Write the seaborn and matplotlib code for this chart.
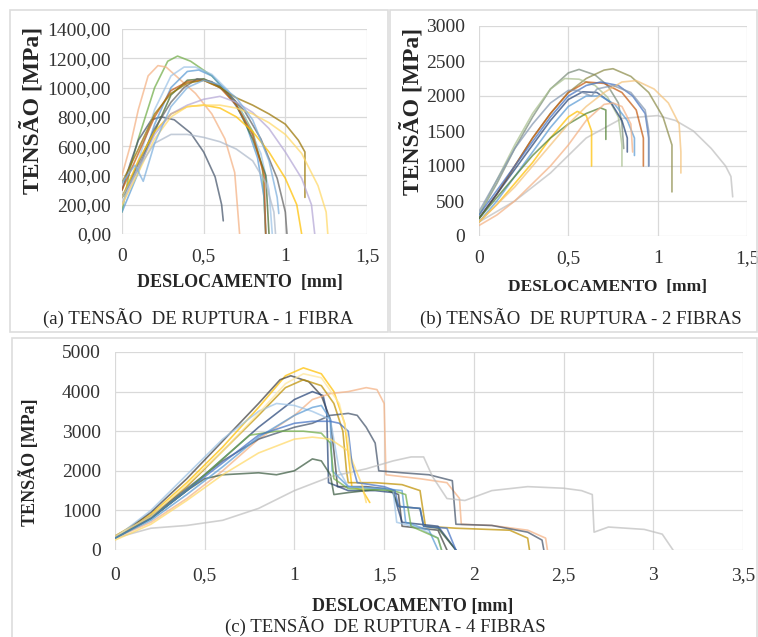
import matplotlib
matplotlib.use("Agg")
import matplotlib.pyplot as plt
from matplotlib.patches import Rectangle
from matplotlib.ticker import FuncFormatter
import seaborn as sns

# ---------------- (a) 1 fibra ----------------
A_DESLOC = [
    [0, 0.05, 0.1, 0.2, 0.28, 0.34, 0.42, 0.55, 0.7, 0.8, 0.86, 0.88],
    [0, 0.05, 0.1, 0.16, 0.22, 0.27, 0.35, 0.45, 0.55, 0.63, 0.69, 0.72],
    [0, 0.05, 0.1, 0.18, 0.24, 0.32, 0.42, 0.5, 0.57, 0.61, 0.62],
    [0, 0.1, 0.2, 0.3, 0.38, 0.45, 0.55, 0.65, 0.75, 0.85, 0.9, 0.92],
    [0, 0.1, 0.2, 0.3, 0.4, 0.47, 0.55, 0.65, 0.75, 0.83, 0.87, 0.88],
    [0, 0.1, 0.2, 0.3, 0.4, 0.5, 0.6, 0.7, 0.8, 0.88, 0.9],
    [0, 0.1, 0.2, 0.3, 0.4, 0.5, 0.6, 0.7, 0.8, 0.87, 0.88],
    [0, 0.1, 0.2, 0.3, 0.38, 0.46, 0.55, 0.65, 0.75, 0.85, 0.95, 1.0, 1.01],
    [0, 0.1, 0.2, 0.3, 0.4, 0.5, 0.6, 0.7, 0.8, 0.9, 1.0, 1.07, 1.1],
    [0, 0.1, 0.2, 0.3, 0.4, 0.5, 0.6, 0.7, 0.8, 0.9, 1.0, 1.08, 1.12, 1.12],
    [0, 0.1, 0.2, 0.3, 0.4, 0.5, 0.6, 0.7, 0.8, 0.9, 1.0, 1.1, 1.16, 1.18],
    [0, 0.1, 0.2, 0.3, 0.4, 0.5, 0.6, 0.7, 0.8, 0.9, 1.0, 1.1, 1.2, 1.25, 1.26],
    [0, 0.1, 0.2, 0.3, 0.4, 0.5, 0.6, 0.7, 0.8, 0.88, 0.93, 0.94],
    [0, 0.08, 0.13, 0.2, 0.3, 0.4, 0.5, 0.6, 0.7, 0.8, 0.9, 0.95, 0.96],
]
A_TENSAO = [
    [150, 450, 650, 1000, 1180, 1215, 1180, 1080, 900, 700, 450, 0],
    [400, 600, 850, 1080, 1150, 1140, 1060, 960, 820, 650, 420, 0],
    [300, 480, 640, 780, 800, 780, 690, 560, 390, 200, 90],
    [200, 500, 850, 1080, 1140, 1140, 1090, 980, 800, 550, 300, 0],
    [150, 420, 750, 1000, 1110, 1120, 1080, 960, 780, 520, 250, 0],
    [250, 450, 700, 950, 1050, 1060, 1010, 880, 650, 400, 0],
    [300, 550, 800, 980, 1040, 1050, 1000, 880, 680, 400, 0],
    [250, 480, 720, 900, 1000, 1060, 1040, 960, 840, 650, 380, 150, 0],
    [250, 500, 700, 820, 870, 880, 860, 800, 700, 560, 380, 200, 0],
    [350, 580, 820, 960, 1030, 1050, 1000, 930, 880, 820, 750, 640, 560, 250],
    [200, 450, 680, 820, 880, 920, 940, 900, 830, 720, 560, 380, 200, 0],
    [200, 420, 650, 800, 870, 880, 880, 860, 820, 760, 680, 550, 330, 150, 0],
    [250, 450, 620, 680, 680, 660, 630, 580, 500, 350, 150, 0],
    [350, 470, 360, 620, 870, 1000, 1050, 1020, 930, 780, 500, 250, 140],
]
A_COLORS = ["#70AD47", "#F4B183", "#44546A", "#9DC3E6", "#5B9BD5", "#43682B",
            "#C55A11", "#636363", "#FFC000", "#997300", "#B4A7D6", "#FFD966",
            "#ADB9CA", "#7CAFDD"]

# ---------------- (b) 2 fibras ----------------
B_DESLOC = [
    [0, 0.2, 0.4, 0.6, 0.8, 1.0, 1.1, 1.2, 1.3, 1.38, 1.41, 1.42],
    [0, 0.1, 0.2, 0.3, 0.4, 0.5, 0.56, 0.65, 0.72, 0.78, 0.8, 0.81],
    [0, 0.1, 0.2, 0.3, 0.4, 0.5, 0.6, 0.7, 0.75, 0.85, 0.95, 1.03, 1.08, 1.08],
    [0, 0.1, 0.2, 0.3, 0.4, 0.48, 0.56, 0.65, 0.72, 0.78, 0.8, 0.8],
    [0, 0.1, 0.2, 0.3, 0.4, 0.5, 0.6, 0.7, 0.8, 0.88, 0.92, 0.92],
    [0, 0.1, 0.2, 0.3, 0.4, 0.5, 0.6, 0.68, 0.78, 0.86, 0.93, 0.95, 0.95],
    [0, 0.1, 0.2, 0.3, 0.4, 0.5, 0.58, 0.66, 0.74, 0.8, 0.83, 0.83],
    [0, 0.1, 0.2, 0.3, 0.4, 0.5, 0.6, 0.68, 0.76, 0.83, 0.87, 0.87],
    [0, 0.1, 0.2, 0.3, 0.4, 0.5, 0.55, 0.6, 0.63, 0.63],
    [0, 0.1, 0.2, 0.3, 0.4, 0.5, 0.6, 0.68, 0.71, 0.71],
    [0, 0.1, 0.2, 0.3, 0.4, 0.5, 0.6, 0.7, 0.8, 0.88, 0.98, 1.06, 1.12, 1.13, 1.13],
    [0, 0.1, 0.2, 0.3, 0.4, 0.5, 0.6, 0.7, 0.75, 0.8, 0.85, 0.86],
    [0, 0.1, 0.2, 0.3, 0.4, 0.5, 0.55, 0.6, 0.63, 0.66, 0.75, 0.85, 0.93, 0.95, 0.95],
]
B_TENSAO = [
    [200, 500, 900, 1400, 1680, 1720, 1650, 1500, 1250, 1000, 850, 560],
    [300, 750, 1250, 1700, 2100, 2330, 2380, 2300, 2150, 1900, 1600, 1250],
    [250, 600, 1000, 1400, 1750, 2050, 2250, 2370, 2390, 2280, 2050, 1700, 1300, 630],
    [300, 800, 1300, 1750, 2100, 2250, 2240, 2150, 1980, 1700, 1300, 1000],
    [250, 600, 1000, 1400, 1750, 2050, 2200, 2180, 2050, 1800, 1400, 1000],
    [300, 650, 1000, 1350, 1700, 2000, 2150, 2200, 2150, 2000, 1750, 1400, 1000],
    [250, 600, 950, 1300, 1650, 1950, 2060, 2050, 1900, 1650, 1400, 1200],
    [200, 500, 850, 1200, 1550, 1850, 2000, 2000, 1880, 1650, 1400, 1150],
    [200, 450, 750, 1050, 1400, 1700, 1780, 1720, 1500, 1000],
    [250, 550, 850, 1150, 1400, 1600, 1750, 1830, 1800, 1380],
    [200, 450, 700, 1000, 1300, 1600, 1850, 2050, 2200, 2220, 2100, 1900, 1600, 1200, 900],
    [150, 300, 500, 750, 1000, 1300, 1650, 1880, 1900, 1850, 1600, 1200],
    [350, 800, 1250, 1600, 1900, 2080, 2080, 2030, 2000, 2100, 2150, 2050, 1800, 1500, 1000],
]
B_COLORS = ["#BFBFBF", "#7A8C7A", "#8C8C4A", "#A9C08F", "#C55A11", "#4472C4",
            "#264478", "#5B9BD5", "#FFC000", "#548235", "#F4C27A", "#F4B183",
            "#8497B0"]

# ---------------- (c) 4 fibras ----------------
C_DESLOC = [
    [0, 0.2, 0.4, 0.6, 0.8, 0.95, 1.05, 1.15, 1.22, 1.28, 1.3, 1.32, 1.38, 1.42],
    [0, 0.2, 0.4, 0.6, 0.8, 0.92, 0.98, 1.08, 1.15, 1.2, 1.22, 1.24, 1.4, 1.5, 1.58, 1.6, 1.8, 1.85],
    [0, 0.2, 0.4, 0.6, 0.8, 0.95, 1.05, 1.15, 1.22, 1.27, 1.29, 1.3, 1.45, 1.6, 1.7, 1.73, 1.9, 2.2, 2.3, 2.31],
    [0, 0.2, 0.4, 0.6, 0.8, 1.0, 1.1, 1.16, 1.18, 1.19, 1.3, 1.45, 1.55, 1.6, 1.8, 1.9],
    [0, 0.2, 0.4, 0.6, 0.8, 1.0, 1.1, 1.2, 1.3, 1.4, 1.46, 1.5, 1.51, 1.7, 1.85, 1.92, 1.93, 2.1, 2.3, 2.4, 2.41],
    [0, 0.2, 0.4, 0.6, 0.8, 1.0, 1.1, 1.2, 1.3, 1.35, 1.4, 1.45, 1.47, 1.6, 1.75, 1.88, 1.9, 2.1, 2.3, 2.38, 2.39],
    [0, 0.2, 0.4, 0.5, 0.6, 0.8, 0.9, 1.0, 1.1, 1.15, 1.2, 1.22, 1.3, 1.5, 1.55, 1.58, 1.7, 1.72, 1.8, 1.9],
    [0, 0.2, 0.4, 0.6, 0.8, 1.0, 1.2, 1.4, 1.55, 1.65, 1.72, 1.77, 1.85, 1.95, 2.1, 2.3, 2.5, 2.6, 2.66, 2.67, 2.75, 2.95, 3.05, 3.11],
    [0, 0.2, 0.4, 0.6, 0.8, 0.9, 1.0, 1.1, 1.2, 1.25, 1.3, 1.45, 1.55, 1.57, 1.7, 1.8, 1.82],
    [0, 0.2, 0.4, 0.6, 0.8, 1.0, 1.1, 1.15, 1.2, 1.21, 1.3, 1.5, 1.6, 1.62, 1.75, 1.8],
    [0, 0.2, 0.4, 0.6, 0.75, 0.9, 1.05, 1.15, 1.2, 1.22, 1.3, 1.55, 1.62, 1.65, 1.8, 1.82],
    [0, 0.2, 0.4, 0.6, 0.8, 1.0, 1.1, 1.2, 1.3, 1.38, 1.4],
    [0, 0.2, 0.4, 0.6, 0.8, 1.0, 1.1, 1.2, 1.25, 1.3, 1.32, 1.35, 1.5, 1.56, 1.58, 1.7, 1.72, 1.85, 1.9],
    [0, 0.2, 0.4, 0.6, 0.8, 0.95, 1.05, 1.15, 1.25, 1.3, 1.32],
]
C_TENSAO = [
    [350, 900, 1700, 2600, 3600, 4400, 4600, 4450, 4000, 3200, 2400, 1600, 1500, 1200],
    [300, 950, 1800, 2750, 3700, 4300, 4400, 4250, 3900, 3300, 2500, 1600, 1600, 1550, 1400, 600, 500, 0],
    [300, 850, 1600, 2500, 3400, 4100, 4300, 4150, 3700, 3000, 2000, 1700, 1700, 1650, 1500, 600, 550, 500, 300, 0],
    [300, 800, 1500, 2300, 3100, 3800, 4000, 3900, 3500, 1700, 1500, 1500, 1450, 700, 600, 0],
    [300, 700, 1300, 2000, 2800, 3400, 3800, 3950, 4000, 4100, 4050, 3700, 1900, 1800, 1700, 1300, 650, 620, 500, 300, 0],
    [350, 850, 1550, 2250, 2800, 3100, 3200, 3400, 3450, 3400, 3100, 2700, 2000, 1950, 1900, 1750, 650, 620, 450, 250, 0],
    [300, 800, 1500, 1800, 1900, 1950, 1900, 2000, 2300, 2250, 1900, 1400, 1450, 1550, 1450, 1100, 1050, 600, 550, 0],
    [300, 550, 620, 750, 1050, 1500, 1850, 2050, 2250, 2350, 2350, 1850, 1300, 1250, 1500, 1600, 1560, 1500, 1400, 450, 580, 520, 400, 0],
    [300, 1000, 1900, 2800, 3500, 3700, 3650, 3500, 3300, 2000, 1600, 1550, 1500, 700, 550, 300, 0],
    [300, 750, 1400, 2100, 2850, 3400, 3600, 3650, 3300, 2000, 1600, 1550, 1500, 700, 500, 0],
    [300, 800, 1500, 2300, 2900, 3000, 3000, 2950, 2700, 1800, 1550, 1500, 1400, 600, 300, 0],
    [250, 650, 1250, 1900, 2450, 2800, 2850, 2800, 2500, 1600, 1200],
    [300, 800, 1500, 2200, 2900, 3200, 3250, 3250, 3200, 3000, 2200, 1700, 1600, 1500, 1100, 1050, 600, 550, 0],
    [350, 850, 1650, 2500, 3450, 4200, 4450, 4350, 3700, 2800, 1900],
]
C_COLORS = ["#FFC000", "#404040", "#BF9000", "#264478", "#F4B183", "#44546A",
            "#3A5A40", "#BFBFBF", "#9DC3E6", "#5B9BD5", "#70AD47", "#FFD966",
            "#4472C4", "#FFE699"]

X_TICKS_SHORT = [0, 0.5, 1, 1.5]
X_TICKS_LONG = [0, 0.5, 1, 1.5, 2, 2.5, 3, 3.5]

sns.set_theme(style="whitegrid")
plt.rcParams["font.family"] = ["Liberation Serif", "DejaVu Serif"]

W, H = 758, 637
fig = plt.figure(figsize=(W / 100, H / 100), dpi=100)
fig.patch.set_facecolor("white")


def fx(px):
    return px / W


def fy(py):
    return 1 - py / H


def comma(v, _):
    return f"{v:g}".replace(".", ",")


def comma2(v, _):
    return f"{v:.2f}".replace(".", ",")


def draw_panel(rect, xs_list, ys_list, colors, xlim, xticks, ylim, ystep, yfmt,
               xlabel, lab_fs, ylab_fs, xlab_pos, ylab_pos, xpad, ypad):
    l, t, r, b = rect
    ax = fig.add_axes([fx(l), fy(b), fx(r) - fx(l), fy(t) - fy(b)])
    for xs, ys, c in zip(xs_list, ys_list, colors):
        sns.lineplot(x=xs, y=ys, sort=False, estimator=None, color=c,
                     lw=1.2, alpha=0.72, ax=ax)
    ax.set_xlim(*xlim)
    ax.set_ylim(*ylim)
    ax.set_xticks(xticks)
    ax.set_yticks(list(range(ylim[0], ylim[1] + 1, ystep)))
    ax.xaxis.set_major_formatter(FuncFormatter(comma))
    ax.yaxis.set_major_formatter(FuncFormatter(yfmt))
    ax.grid(True, color="#D9D9D9", lw=0.9)
    for s in ax.spines.values():
        s.set_visible(False)
    ax.tick_params(axis="both", length=0, labelsize=14, colors="#333333")
    ax.tick_params(axis="x", pad=xpad)
    ax.tick_params(axis="y", pad=ypad)
    ax.set_xlabel(xlabel, fontsize=lab_fs, fontweight="bold", color="#262626")
    ax.set_ylabel("TENSÃO [MPa]", fontsize=ylab_fs, fontweight="bold", color="#262626")
    ax.xaxis.set_label_coords((xlab_pos[0] - l) / (r - l), (b - xlab_pos[1]) / (b - t))
    ax.yaxis.set_label_coords((ylab_pos[0] - l) / (r - l), (b - ylab_pos[1]) / (b - t))
    ax.xaxis.label.set_va("center")
    ax.yaxis.label.set_va("center")
    return ax


draw_panel((122, 29, 367, 234), A_DESLOC, A_TENSAO, A_COLORS, (0, 1.5), X_TICKS_SHORT,
           (0, 1400), 200, comma2, "DESLOCAMENTO  [mm]", 13, 17, (240, 283), (32, 110), 10, 8)
draw_panel((479, 26, 747, 236), B_DESLOC, B_TENSAO, B_COLORS, (0, 1.5), X_TICKS_SHORT,
           (0, 3000), 500, comma, "DESLOCAMENTO  [mm]", 12.5, 17, (607, 287), (412, 111), 10, 10)
draw_panel((115, 352, 743, 550), C_DESLOC, C_TENSAO, C_COLORS, (0, 3.5), X_TICKS_LONG,
           (0, 5000), 1000, comma, "DESLOCAMENTO [mm]", 13, 13, (413, 606), (29, 462), 12, 10)

fig.text(fx(198), fy(318), "(a) TENSÃO  DE RUPTURA - 1 FIBRA", ha="center", va="center",
         fontsize=13.5, color="#262626")
fig.text(fx(581), fy(318), "(b) TENSÃO  DE RUPTURA - 2 FIBRAS", ha="center", va="center",
         fontsize=13.5, color="#262626")
fig.text(fx(385), fy(626), "(c) TENSÃO  DE RUPTURA - 4 FIBRAS", ha="center", va="center",
         fontsize=13.5, color="#262626")

for (l, t, r, b) in [(10, 10, 388, 332), (390, 10, 757, 332), (12, 338, 757, 640)]:
    fig.add_artist(Rectangle((fx(l), fy(b)), fx(r) - fx(l), fy(t) - fy(b),
                             transform=fig.transFigure, fill=False,
                             edgecolor="#DDDDDD", lw=1.2))

fig.savefig("out.png", dpi=100)
